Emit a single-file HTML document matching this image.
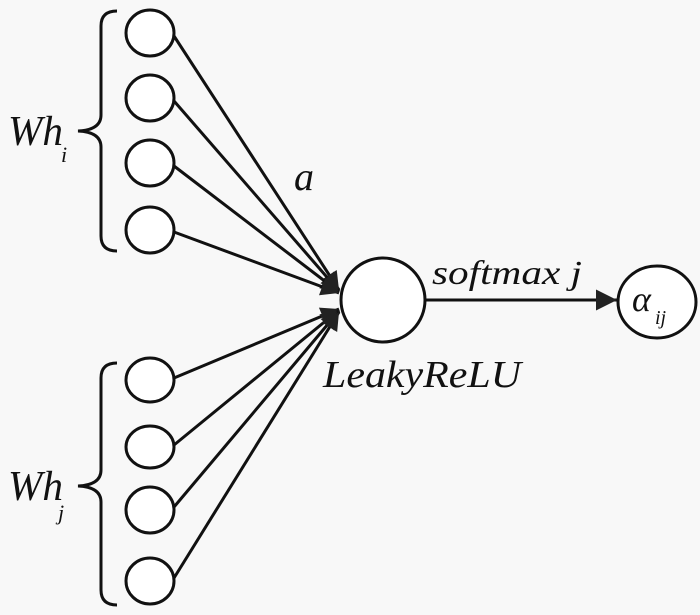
<!DOCTYPE html>
<html><head><meta charset="utf-8"><style>
html,body{margin:0;padding:0;background:#f8f8f8;}
svg{display:block;}
</style></head><body>
<svg width="700" height="615" viewBox="0 0 700 615" xmlns="http://www.w3.org/2000/svg">
<rect width="700" height="615" fill="#f8f8f8"/>
<defs>
<marker id="ah" viewBox="0 0 10 10" refX="10" refY="5" markerWidth="9" markerHeight="6" markerUnits="strokeWidth" orient="auto">
<path d="M0,0 L10,5 L0,10 z" fill="#222"/>
</marker>
<marker id="ah2" viewBox="0 0 10 10" refX="10" refY="5" markerWidth="9" markerHeight="7" markerUnits="strokeWidth" orient="auto">
<path d="M0,0 L10,5 L0,10 z" fill="#222"/>
</marker>
</defs>
<g stroke="#111" stroke-width="3" fill="none">
<path d="M117,11 Q101,11 101,26 L101,115 Q101,130 78,131 Q101,132 101,147 L101,236 Q101,251 117,251"/>
<path d="M117,363 Q101,363 101,378 L101,470 Q101,485 78,486 Q101,487 101,502 L101,590 Q101,605 117,605"/>
<line x1="174" y1="36" x2="339" y2="290" marker-end="url(#ah)"/>
<line x1="174" y1="101" x2="339" y2="291" marker-end="url(#ah)"/>
<line x1="174" y1="166" x2="339" y2="292" marker-end="url(#ah)"/>
<line x1="174" y1="232" x2="339" y2="293" marker-end="url(#ah)"/>
<line x1="174" y1="378" x2="339" y2="309" marker-end="url(#ah)"/>
<line x1="174" y1="445" x2="339" y2="310" marker-end="url(#ah)"/>
<line x1="174" y1="507" x2="339" y2="311" marker-end="url(#ah)"/>
<line x1="174" y1="578" x2="339" y2="312" marker-end="url(#ah)"/>
<line x1="425" y1="300" x2="617" y2="300" marker-end="url(#ah2)"/>
</g>
<g stroke="#111" stroke-width="3" fill="#fff">
<ellipse cx="150" cy="33" rx="24" ry="23"/>
<ellipse cx="150" cy="98" rx="24" ry="23"/>
<ellipse cx="150" cy="163" rx="24" ry="23"/>
<ellipse cx="150" cy="230" rx="24" ry="23"/>
<ellipse cx="150" cy="380" rx="24" ry="22"/>
<ellipse cx="150" cy="447" rx="24" ry="21"/>
<ellipse cx="150" cy="510" rx="24" ry="23"/>
<ellipse cx="150" cy="581" rx="24" ry="23"/>
<circle cx="383" cy="300" r="42"/>
<ellipse cx="657" cy="302" rx="39" ry="36"/>
</g>
<g font-family="'Liberation Serif','DejaVu Serif','Times New Roman',serif" font-style="italic" fill="#111">
<text x="8" y="145" font-size="42" textLength="55" lengthAdjust="spacingAndGlyphs">Wh</text>
<text x="61" y="162" font-size="22">i</text>
<text x="8" y="500" font-size="42" textLength="55" lengthAdjust="spacingAndGlyphs">Wh</text>
<text x="58" y="520" font-size="22">j</text>
<text x="294" y="190" font-size="40">a</text>
<text x="432" y="284" font-size="34" textLength="150" lengthAdjust="spacingAndGlyphs">softmax j</text>
<text x="323" y="387" font-size="38" textLength="198" lengthAdjust="spacingAndGlyphs">LeakyReLU</text>
<text x="632" y="311" font-size="36">α</text>
<text x="655" y="324" font-size="20">ij</text>
</g>
</svg>
</body></html>
